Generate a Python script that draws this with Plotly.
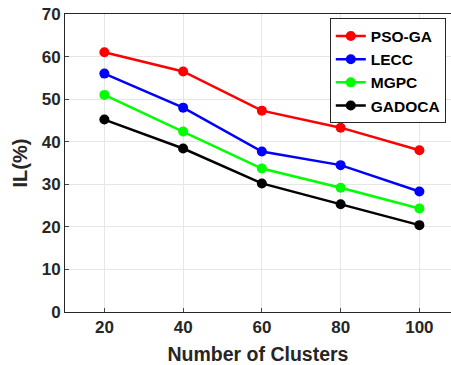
import plotly.graph_objects as go

clusters = [20, 40, 60, 80, 100]
pso_ga = [61.0, 56.5, 47.3, 43.3, 38.0]
lecc = [56.0, 48.0, 37.7, 34.5, 28.3]
mgpc = [51.0, 42.4, 33.7, 29.2, 24.3]
gadoca = [45.2, 38.4, 30.2, 25.3, 20.4]

series = [("PSO-GA", pso_ga, "#ff0000"), ("LECC", lecc, "#0000ff"),
          ("MGPC", mgpc, "#00ff00"), ("GADOCA", gadoca, "#000000")]

fig = go.Figure()
for name, vals, col in series:
    fig.add_trace(go.Scatter(x=clusters, y=vals, name=name, mode="lines+markers",
                             line=dict(color=col, width=2.5),
                             marker=dict(color=col, size=10)))

font_family = "Liberation Sans, Arial, sans-serif"
fig.update_layout(
    width=451, height=365,
    margin=dict(l=65, r=0, t=14, b=53, autoexpand=False),
    paper_bgcolor="white", plot_bgcolor="white",
    font=dict(family=font_family, color="#262626"),
    legend=dict(x=0.686, y=0.985, xanchor="left", yanchor="top",
                bgcolor="white", bordercolor="#262626", borderwidth=1,
                font=dict(size=15.5, family=font_family, color="#000000", weight="bold"),
                itemwidth=30, tracegroupgap=0),
    xaxis=dict(range=[10, 108.03], tickvals=clusters, ticks="inside", ticklen=4,
               showline=True, linecolor="#262626", linewidth=1, mirror=True,
               showgrid=True, gridcolor="#e6e6e6", zeroline=False,
               tickfont=dict(size=17, weight="bold", color="#262626"),
               title=dict(text="Number of Clusters", font=dict(size=19.5, weight="bold", color="#262626"), standoff=10)),
    yaxis=dict(range=[0, 70], dtick=10, ticks="inside", ticklen=4,
               showline=True, linecolor="#262626", linewidth=1, mirror=True,
               showgrid=True, gridcolor="#e6e6e6", zeroline=False,
               tickfont=dict(size=17, weight="bold", color="#262626"),
               title=dict(text="IL(%)", font=dict(size=20, weight="bold", color="#262626"), standoff=8)),
)
fig.write_html("out.html")
